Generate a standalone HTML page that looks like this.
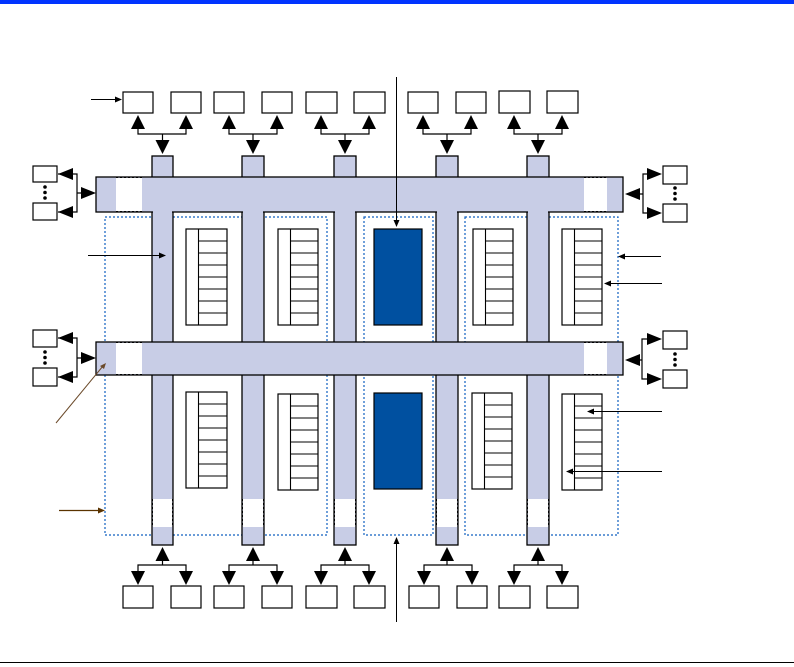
<!DOCTYPE html>
<html><head><meta charset="utf-8"><style>html,body{margin:0;padding:0;background:#fff;}svg{display:block;}</style></head>
<body>
<svg width="794" height="667" viewBox="0 0 794 667" xmlns="http://www.w3.org/2000/svg">
<rect x="0" y="0" width="794" height="4" fill="#0033ff"/>
<line x1="0" y1="662.5" x2="794" y2="662.5" stroke="#000" stroke-width="1"/>

<!-- dotted group regions -->
<g fill="none" stroke="#1060c0" stroke-width="1.2" stroke-dasharray="2,2">
<rect x="105" y="217" width="222" height="318"/>
<rect x="364" y="217" width="69" height="318"/>
<rect x="465" y="217" width="153" height="318"/>
</g>

<!-- columns -->
<g fill="#c8cde6" stroke="#000" stroke-width="1.3">
<rect x="152" y="156" width="21" height="389"/>
<rect x="242" y="156" width="22" height="389"/>
<rect x="334" y="156" width="22" height="389"/>
<rect x="436" y="156" width="22" height="389"/>
<rect x="527" y="156" width="22" height="389"/>
</g>
<!-- gaps in columns -->
<g fill="#fff">
<rect x="153" y="499" width="19" height="28"/>
<rect x="243" y="499" width="20" height="28"/>
<rect x="335" y="499" width="20" height="28"/>
<rect x="437" y="499" width="20" height="28"/>
<rect x="528" y="499" width="20" height="28"/>
</g>
<g stroke="#000" stroke-width="1" stroke-dasharray="2,2">
<line x1="152.5" y1="499" x2="152.5" y2="527"/><line x1="172.5" y1="499" x2="172.5" y2="527"/>
<line x1="242.5" y1="499" x2="242.5" y2="527"/><line x1="263.5" y1="499" x2="263.5" y2="527"/>
<line x1="334.5" y1="499" x2="334.5" y2="527"/><line x1="355.5" y1="499" x2="355.5" y2="527"/>
<line x1="436.5" y1="499" x2="436.5" y2="527"/><line x1="457.5" y1="499" x2="457.5" y2="527"/>
<line x1="527.5" y1="499" x2="527.5" y2="527"/><line x1="548.5" y1="499" x2="548.5" y2="527"/>
</g>

<!-- buses -->
<g fill="#c8cde6" stroke="#000" stroke-width="1.3">
<rect x="96" y="177" width="527" height="35"/>
<rect x="96" y="342" width="527" height="33"/>
</g>
<g fill="#fff">
<rect x="116" y="178" width="26" height="33"/>
<rect x="584" y="178" width="23" height="33"/>
<rect x="116" y="343" width="26" height="31"/>
<rect x="584" y="343" width="23" height="31"/>
</g>
<g stroke="#000" stroke-width="1" stroke-dasharray="2,2">
<line x1="116" y1="177.5" x2="142" y2="177.5"/><line x1="116" y1="211.5" x2="142" y2="211.5"/>
<line x1="584" y1="177.5" x2="607" y2="177.5"/><line x1="584" y1="211.5" x2="607" y2="211.5"/>
<line x1="116" y1="342.5" x2="142" y2="342.5"/><line x1="116" y1="374.5" x2="142" y2="374.5"/>
<line x1="584" y1="342.5" x2="607" y2="342.5"/><line x1="584" y1="374.5" x2="607" y2="374.5"/>
</g>
<!-- bus/column overlaps repaint column fill continuity -->
<g fill="#c8cde6">
<rect x="153" y="211" width="19" height="2"/><rect x="243" y="211" width="20" height="2"/><rect x="335" y="211" width="20" height="2"/><rect x="437" y="211" width="20" height="2"/><rect x="528" y="211" width="20" height="2"/>
</g>

<!-- memory blocks -->
<g fill="#fff" stroke="#000" stroke-width="1.2">
<rect x="186" y="229" width="41" height="96"/>
<rect x="278" y="229" width="40" height="96"/>
<rect x="473" y="229" width="40" height="96"/>
<rect x="562" y="229" width="40" height="96"/>
<rect x="186" y="392" width="41" height="96"/>
<rect x="278" y="394" width="40" height="96"/>
<rect x="472" y="393" width="40" height="96"/>
<rect x="562" y="394" width="40" height="96"/>
</g>
<g stroke="#000" stroke-width="1.1">
<path d="M198.5 229V325M198 241H227M198 253H227M198 265H227M198 277H227M198 289H227M198 301H227M198 313H227"/>
<path d="M290.5 229V325M290 241H318M290 253H318M290 265H318M290 277H318M290 289H318M290 301H318M290 313H318"/>
<path d="M485.5 229V325M485 241H513M485 253H513M485 265H513M485 277H513M485 289H513M485 301H513M485 313H513"/>
<path d="M574.5 229V325M574 241H602M574 253H602M574 265H602M574 277H602M574 289H602M574 301H602M574 313H602"/>
<path d="M198.5 392V488M198 404H227M198 416H227M198 428H227M198 440H227M198 452H227M198 464H227M198 476H227"/>
<path d="M290.5 394V490M290 406H318M290 418H318M290 430H318M290 442H318M290 454H318M290 466H318M290 478H318"/>
<path d="M484.5 393V489M484 405H512M484 417H512M484 429H512M484 441H512M484 453H512M484 465H512M484 477H512"/>
<path d="M574.5 394V490M574 406H602M574 418H602M574 430H602M574 442H602M574 454H602M574 466H602M574 478H602"/>
</g>
<g fill="#0050a0" stroke="#000" stroke-width="1.2">
<rect x="374" y="229" width="48" height="96"/>
<rect x="374" y="393" width="48" height="96"/>
</g>

<!-- top boxes -->
<g fill="#fff" stroke="#000" stroke-width="1.2">
<rect x="123" y="92" width="30" height="21"/><rect x="171" y="92" width="30" height="21"/>
<rect x="214" y="92" width="30" height="21"/><rect x="262" y="92" width="30" height="21"/>
<rect x="306" y="92" width="31" height="21"/><rect x="354" y="92" width="31" height="21"/>
<rect x="408" y="92" width="30" height="21"/><rect x="456" y="92" width="30" height="21"/>
<rect x="499" y="91" width="31" height="22"/><rect x="547" y="91" width="31" height="22"/>
<!-- bottom boxes -->
<rect x="123" y="586" width="30" height="22"/><rect x="171" y="586" width="30" height="22"/>
<rect x="214" y="586" width="30" height="22"/><rect x="262" y="586" width="30" height="22"/>
<rect x="306" y="586" width="31" height="22"/><rect x="354" y="586" width="31" height="22"/>
<rect x="409" y="586" width="30" height="22"/><rect x="457" y="586" width="30" height="22"/>
<rect x="499" y="586" width="31" height="22"/><rect x="547" y="586" width="31" height="22"/>
<!-- side boxes -->
<rect x="33" y="166" width="24" height="16"/><rect x="33" y="203" width="24" height="17"/>
<rect x="33" y="330" width="24" height="17"/><rect x="33" y="368" width="24" height="18"/>
<rect x="663" y="166" width="24" height="18"/><rect x="663" y="204" width="24" height="18"/>
<rect x="663" y="331" width="24" height="18"/><rect x="663" y="370" width="24" height="18"/>
</g>

<!-- top fanouts -->
<g stroke="#000" stroke-width="1.2" fill="none">
<path d="M138 128V134H186V128M162.5 134V141"/>
<path d="M229 128V134H277V128M253 134V141"/>
<path d="M321 128V134H369V128M345 134V141"/>
<path d="M423 128V134H471V128M447 134V141"/>
<path d="M514 128V134H562V128M538 134V141"/>
<path d="M138 572V565H186V572M162.5 565V559"/>
<path d="M229 572V565H277V572M253 565V559"/>
<path d="M321 572V565H369V572M345 565V559"/>
<path d="M424 572V565H472V572M447 565V559"/>
<path d="M514 572V565H562V572M538 565V559"/>
<path d="M58 174H77V212H58M77 193H82"/>
<path d="M58 338H77V377H58M77 358H82"/>
<path d="M660 174H643V213H660M643 194H638"/>
<path d="M660 339H642V379H660M642 360H638"/>
</g>
<g fill="#000">
<path d="M138 115L131 129H145Z"/><path d="M186 115L179 129H193Z"/>
<path d="M229 115L222 129H236Z"/><path d="M277 115L270 129H284Z"/>
<path d="M321 115L314 129H328Z"/><path d="M369 115L362 129H376Z"/>
<path d="M423 115L416 129H430Z"/><path d="M471 115L464 129H478Z"/>
<path d="M514 115L507 129H521Z"/><path d="M562 115L555 129H569Z"/>
<path d="M162.5 154L155.5 140H169.5Z"/><path d="M253 154L246 140H260Z"/>
<path d="M345 154L338 140H352Z"/><path d="M447 154L440 140H454Z"/><path d="M538 154L531 140H545Z"/>
<path d="M162.5 547L155.5 561H169.5Z"/><path d="M253 547L246 561H260Z"/>
<path d="M345 547L338 561H352Z"/><path d="M447 547L440 561H454Z"/><path d="M538 547L531 561H545Z"/>
<path d="M138 585L131 571H145Z"/><path d="M186 585L179 571H193Z"/>
<path d="M229 585L222 571H236Z"/><path d="M277 585L270 571H284Z"/>
<path d="M321 585L314 571H328Z"/><path d="M369 585L362 571H376Z"/>
<path d="M424 585L417 571H431Z"/><path d="M472 585L465 571H479Z"/>
<path d="M514 585L507 571H521Z"/><path d="M562 585L555 571H569Z"/>
<!-- side heads -->
<path d="M58 174L73 168V180Z"/><path d="M58 212L73 206V218Z"/><path d="M96 193L81 187V199Z"/>
<path d="M58 338L73 332V344Z"/><path d="M58 377L73 371V383Z"/><path d="M96 358L81 352V364Z"/>
<path d="M662 174L647 168V180Z"/><path d="M662 213L647 207V219Z"/><path d="M625 194L640 188V200Z"/>
<path d="M662 339L647 333V345Z"/><path d="M662 379L647 373V385Z"/><path d="M625 360L640 354V366Z"/>
<!-- dots -->
<circle cx="45" cy="187" r="1.8"/><circle cx="45" cy="192.5" r="1.8"/><circle cx="45" cy="198" r="1.8"/>
<circle cx="45" cy="352" r="1.8"/><circle cx="45" cy="357.5" r="1.8"/><circle cx="45" cy="363" r="1.8"/>
<circle cx="675" cy="188" r="1.8"/><circle cx="675" cy="193.5" r="1.8"/><circle cx="675" cy="199" r="1.8"/>
<circle cx="675" cy="354" r="1.8"/><circle cx="675" cy="359.5" r="1.8"/><circle cx="675" cy="365" r="1.8"/>
</g>

<!-- annotation arrows -->
<g stroke="#000" stroke-width="1">
<line x1="91" y1="99.5" x2="117" y2="99.5"/>
<line x1="88" y1="255.5" x2="160" y2="255.5"/>
<line x1="396.5" y1="77" x2="396.5" y2="222"/>
<line x1="396.5" y1="622" x2="396.5" y2="542"/>
<line x1="661" y1="256.5" x2="622" y2="256.5"/>
<line x1="662" y1="283.5" x2="608" y2="283.5"/>
<line x1="662" y1="411.5" x2="592" y2="411.5"/>
<line x1="662" y1="471.5" x2="571" y2="471.5"/>
</g>
<g stroke="#6b4a2a" stroke-width="1">
<line x1="56" y1="423" x2="103" y2="366"/>
</g>
<g stroke="#5a3300" stroke-width="1.2">
<line x1="59" y1="510.5" x2="100" y2="510.5"/>
</g>
<g fill="#000">
<path d="M122 99.5L115 96.5V102.5Z"/>
<path d="M166 255.5L159 252.5V258.5Z"/>
<path d="M396.5 227L393.5 220H399.5Z"/>
<path d="M396.5 537L393.5 544H399.5Z"/>
<path d="M618 256.5L625 253.5V259.5Z"/>
<path d="M604 283.5L611 280.5V286.5Z"/>
<path d="M587 411.5L594 408.5V414.5Z"/>
<path d="M566 471.5L573 468.5V474.5Z"/>
</g>
<path d="M106 363L100 366L104 369Z" fill="#6b4a2a"/>
<path d="M105 510.5L98 507.5V513.5Z" fill="#5a3300"/>
</svg>
</body></html>
